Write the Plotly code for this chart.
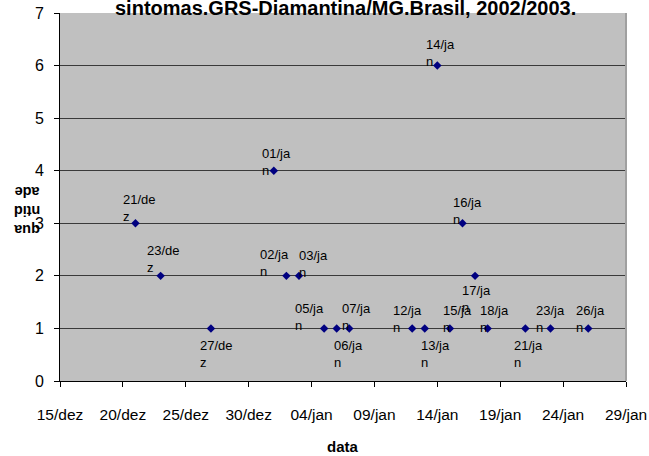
import plotly.graph_objects as go

# ---- data ----
dates = ["2002-12-21", "2002-12-23", "2002-12-27", "2003-01-01", "2003-01-02",
         "2003-01-03", "2003-01-05", "2003-01-06", "2003-01-07", "2003-01-12",
         "2003-01-13", "2003-01-14", "2003-01-15", "2003-01-16", "2003-01-17",
         "2003-01-18", "2003-01-21", "2003-01-23", "2003-01-26"]
quantidade = [3, 2, 1, 4, 2, 2, 1, 1, 1, 1, 1, 6, 1, 3, 2, 1, 1, 1, 1]
point_labels = ["21/de<br>z", "23/de<br>z", "27/de<br>z", "01/ja<br>n", "02/ja<br>n",
                "03/ja<br>n", "05/ja<br>n", "06/ja<br>n", "07/ja<br>n", "12/ja<br>n",
                "13/ja<br>n", "14/ja<br>n", "15/ja<br>n", "16/ja<br>n", "17/ja<br>n",
                "18/ja<br>n", "21/ja<br>n", "23/ja<br>n", "26/ja<br>n"]
tick_dates = ["2002-12-15", "2002-12-20", "2002-12-25", "2002-12-30", "2003-01-04",
              "2003-01-09", "2003-01-14", "2003-01-19", "2003-01-24", "2003-01-29"]
tick_labels = ["15/dez", "20/dez", "25/dez", "30/dez", "04/jan",
               "09/jan", "14/jan", "19/jan", "24/jan", "29/jan"]
title_text = "sintomas.GRS-Diamantina/MG.Brasil, 2002/2003."
x_title = "data"
y_title = "qua<br>ntid<br>ade"

# ---- label placement (style: pixel offsets of label left edge / first line centre) ----
label_dx = [-11, -13, -10, -11, -25, 1, -28, -2, -6, -18, -3, -10, -6, -8, -12, -7, -10, -14, -11]
label_dy = [-22, -24, 19, -16, -20, -19, -18, 19, -18, -16, 19, -20, -16, -19, 16, -16, 19, -16, -16]

FONT = "Liberation Sans, Arial, sans-serif"
LINE_C = 9  # distance from box top to first line centre

fig = go.Figure()
fig.add_trace(go.Scatter(
    x=dates, y=quantidade, mode="markers",
    marker=dict(symbol="diamond", size=6.5, color="#000080",
                line=dict(width=0)),
    showlegend=False, hoverinfo="skip"))

annotations = []
for d, v, t, dx, dy in zip(dates, quantidade, point_labels, label_dx, label_dy):
    annotations.append(dict(
        x=d, y=v, xref="x", yref="y", text=t, showarrow=False,
        xanchor="left", yanchor="top", align="left",
        xshift=dx - 1, yshift=-(dy - LINE_C),
        borderpad=0, borderwidth=0,
        font=dict(family=FONT, size=13, color="#000000")))

annotations.append(dict(
    x=0.505, y=1, xref="paper", yref="paper", text="<b>" + title_text + "</b>",
    showarrow=False, xanchor="center", yanchor="bottom", yshift=-6,
    borderpad=0, borderwidth=0,
    font=dict(family=FONT, size=20, color="#000000")))
annotations.append(dict(
    x=0.5, y=-0.178, xref="paper", yref="paper", text="<b>" + x_title + "</b>",
    showarrow=False, xanchor="center", yanchor="middle",
    font=dict(family=FONT, size=15, color="#000000")))
annotations.append(dict(
    x=-0.058, y=0.462, xref="paper", yref="paper", text="<b>" + y_title + "</b>",
    showarrow=False, xanchor="center", yanchor="middle", textangle=180,
    align="center",
    font=dict(family=FONT, size=14.5, color="#000000")))

fig.update_layout(
    width=649, height=456,
    margin=dict(l=60, r=23, t=13, b=75, pad=0, autoexpand=False),
    paper_bgcolor="#FFFFFF", plot_bgcolor="#C0C0C0",
    font=dict(family=FONT, size=15, color="#000000"),
    annotations=annotations,
    shapes=[dict(type="line", xref="paper", yref="paper", x0=1, x1=1, y0=0, y1=1,
                 line=dict(color="#A0A0A0", width=2))],
)
fig.update_xaxes(
    type="date", range=["2002-12-15", "2003-01-29"],
    tickvals=tick_dates, ticktext=tick_labels, automargin=False,
    showgrid=False, zeroline=False,
    showline=True, linecolor="#000000", linewidth=1,
    ticks="outside", ticklen=5, tickcolor="#000000", tickwidth=1,
    ticklabelstandoff=14,
    tickfont=dict(family=FONT, size=15.5, color="#000000"))
fig.update_yaxes(
    range=[0, 7], dtick=1, tick0=0, automargin=False,
    showgrid=True, gridcolor="#3a3a3a", gridwidth=1, zeroline=False,
    showline=True, linecolor="#000000", linewidth=1,
    ticks="outside", ticklen=5, tickcolor="#000000", tickwidth=1,
    ticklabelstandoff=7,
    tickfont=dict(family=FONT, size=16, color="#000000"))

fig.write_html("out.html")
